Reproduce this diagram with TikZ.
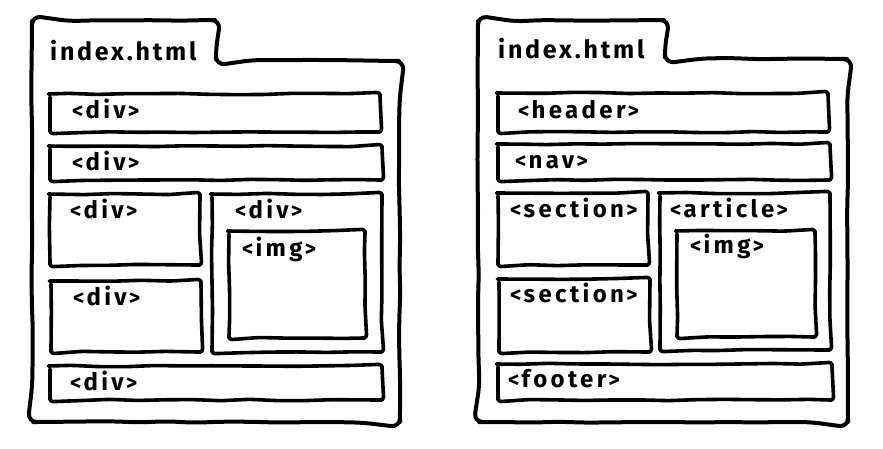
\documentclass[tikz,border=0pt]{standalone}
\usepackage{fontspec}
\setmainfont{Fira Sans}[BoldFont={* Bold}]
\usetikzlibrary{decorations.pathmorphing}
\newfontfamily\titlefont{Fira Sans}[UprightFont={* Bold},LetterSpace=11]
\newfontfamily\tagfont{Fira Sans}[UprightFont={* Bold},LetterSpace=14]
\newcommand{\tg}[1]{{\fontsize{22}{22}\selectfont<}\kern2pt#1\kern2pt{\fontsize{22}{22}\selectfont>}}
\tikzset{
  sketch/.style={line width=3.6pt, line join=round, line cap=round,
    decorate, decoration={random steps, segment length=28pt, amplitude=0.7pt},
    rounded corners=3pt},
  folder/.style={sketch, rounded corners=9pt, line width=4pt},
  title/.style={anchor=base west, inner sep=0pt, font=\titlefont\fontsize{25}{25}\selectfont},
  lbl/.style={anchor=base west, inner sep=0pt, font=\tagfont\fontsize{24}{24}\selectfont},
}
\begin{document}
\begin{tikzpicture}[x=1pt,y=-1pt]
\pgfmathsetseed{7}
\fill[white] (0,0) rectangle (883,448);
\useasboundingbox (0,0) rectangle (883,448);
% ---------- left folder ----------
\draw[folder] (32,220) -- (32,21) -- (215,20) -- (216,60) -- (399,61) -- (400,422) -- (33,422) -- cycle;
\node[title] (ltitle) at (50,60) {index.html};
\draw[sketch] (50,94) rectangle (380,132);
\node[lbl] (l1) at (72,118) {\tg{div}};
\draw[sketch] (50,146) rectangle (382,180);
\node[lbl] (l2) at (72,170) {\tg{div}};
\draw[sketch] (50,194) rectangle (200,265);
\node[lbl] (l3) at (70,218) {\tg{div}};
\draw[sketch] (51,281) rectangle (201,352);
\node[lbl] (l4) at (73,305) {\tg{div}};
\draw[sketch] (212,194) rectangle (382,352);
\node[lbl] (l5) at (235,218) {\tg{div}};
\draw[sketch] (229,231) rectangle (365,338);
\node[lbl] (l6) at (242,256) {\tg{img}};
\draw[sketch] (50,366) rectangle (382,400);
\node[lbl] (l7) at (70,390) {\tg{div}};
% ---------- right folder ----------
\draw[folder] (478,220) -- (478,21) -- (664,20) -- (665,58) -- (847,59) -- (848,422) -- (479,422) -- cycle;
\node[title] (rtitle) at (498,58) {index.html};
\draw[sketch] (498,93) rectangle (828,132);
\node[lbl] (r1) at (518,118) {\tg{header}};
\draw[sketch] (498,144) rectangle (830,180);
\node[lbl] (r2) at (515,168) {\tg{nav}};
\draw[sketch] (498,193) rectangle (648,265);
\node[lbl] (r3) at (510,217) {\tg{section}};
\draw[sketch] (499,279) rectangle (650,352);
\node[lbl] (r4) at (510,302) {\tg{section}};
\draw[sketch] (660,193) rectangle (830,350);
\node[lbl] (r5) at (670,217) {\tg{article}};
\draw[sketch] (677,231) rectangle (815,337);
\node[lbl] (r6) at (690,253) {\tg{img}};
\draw[sketch] (498,364) rectangle (832,400);
\node[lbl] (r7) at (508,387) {\tg{footer}};
\end{tikzpicture}
\end{document}
